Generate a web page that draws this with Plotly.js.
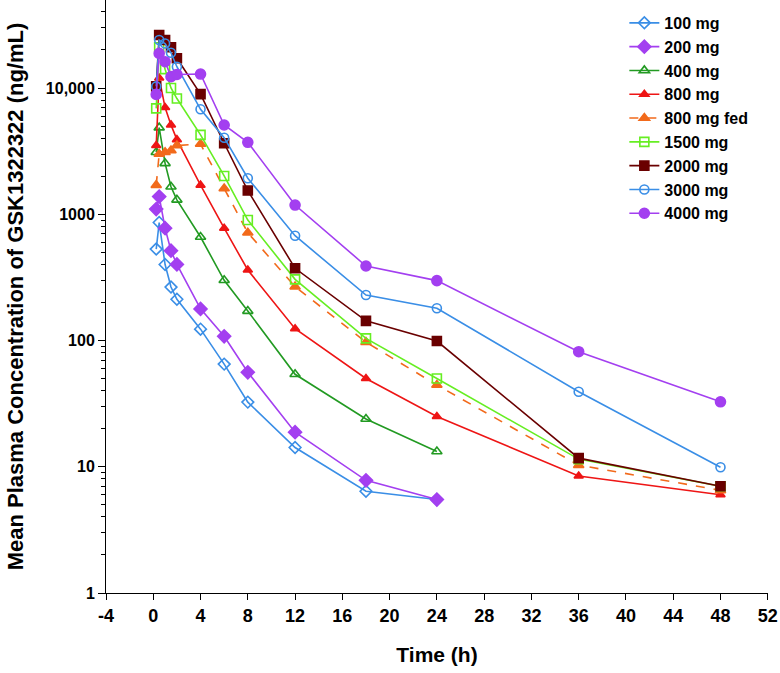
<!DOCTYPE html>
<html>
<head>
<meta charset="utf-8">
<script src="https://cdn.plot.ly/plotly-3.0.1.min.js"></script>
<style>html,body{margin:0;padding:0;background:#fff}#chart{width:780px;height:673px}</style>
</head>
<body>
<div id="chart"></div>
<script>
// Time points (h)
const timesTo24 = [0.25, 0.5, 1, 1.5, 2, 4, 6, 8, 12, 18, 24];
const timesTo48 = [0.25, 0.5, 1, 1.5, 2, 4, 6, 8, 12, 18, 24, 36, 48];

// Mean plasma concentrations (ng/mL)
const mg100   = [530, 860, 400, 265, 212, 123, 65, 32.5, 14.2, 6.4, 5.5];
const mg200   = [1100, 1380, 775, 515, 400, 178, 108, 56, 18.8, 7.8, 5.5];
const mg400   = [3100, 4850, 2530, 1650, 1300, 660, 300, 171, 54, 23.9, 13.2];
const mg800   = [3500, 12000, 7000, 5100, 3900, 1700, 775, 362, 124, 50, 25, 8.45, 6.0];
const mg800fed= [1700, 3000, 3100, 3200, 3500, 3600, 1600, 714, 267, 97, 44.4, 10.3, 6.5];
const mg1500  = [6900, 21000, 14100, 10000, 8250, 4250, 2010, 900, 305, 104, 50, 11.5, 7.0];
const mg2000  = [10300, 26300, 24000, 21000, 17200, 8950, 3650, 1540, 373, 143, 99, 11.7, 7.0];
const mg3000  = [10300, 24000, 22500, 19000, 14750, 6780, 4040, 1930, 676, 229, 180, 39.3, 9.9];
const mg4000  = [8900, 18800, 16150, 12300, 12800, 12900, 5090, 3715, 1183, 389, 298, 81.5, 32.7];

const seriesNames = ['100 mg','200 mg','400 mg','800 mg','800 mg fed','1500 mg','2000 mg','3000 mg','4000 mg'];
const xTickVals = [-4, 0, 4, 8, 12, 16, 20, 24, 28, 32, 36, 40, 44, 48, 52];
const xTickText = ['-4', '0', '4', '8', '12', '16', '20', '24', '28', '32', '36', '40', '44', '48', '52'];
const yTickVals = [1, 10, 100, 1000, 10000];
const yTickText = ['1', '10', '100', '1000', '10,000'];

// minor tick positions for the log axis (2..9 in each decade)
const yMinorVals = [];
for (let k = 0; k <= 4; k++) {
  for (let m = 2; m <= 9; m++) {
    const v = m * Math.pow(10, k);
    if (v <= 50000) yMinorVals.push(v);
  }
}

const series = [
  {x: timesTo24, y: mg100,    color: '#3a8ee6', symbol: 'diamond-open',     dash: 'solid', size: 9},
  {x: timesTo24, y: mg200,    color: '#a33ff0', symbol: 'diamond',          dash: 'solid', size: 10},
  {x: timesTo24, y: mg400,    color: '#229a22', symbol: 'triangle-up-open', dash: 'solid', size: 9},
  {x: timesTo48, y: mg800,    color: '#ee1515', symbol: 'triangle-up',      dash: 'solid', size: 8},
  {x: timesTo48, y: mg800fed, color: '#f26a1b', symbol: 'triangle-up',      dash: 'dash',  size: 9},
  {x: timesTo48, y: mg1500,   color: '#66ee22', symbol: 'square-open',      dash: 'solid', size: 9},
  {x: timesTo48, y: mg2000,   color: '#6a0000', symbol: 'square',           dash: 'solid', size: 9},
  {x: timesTo48, y: mg3000,   color: '#3a8ee6', symbol: 'circle-open',      dash: 'solid', size: 9},
  {x: timesTo48, y: mg4000,   color: '#a33ff0', symbol: 'circle',           dash: 'solid', size: 10}
];

const traces = series.map((s, i) => ({
  type: 'scatter',
  mode: 'lines+markers',
  name: seriesNames[i],
  x: s.x,
  y: s.y,
  line: {color: s.color, width: 1.6, dash: s.dash},
  marker: {color: s.color, symbol: s.symbol, size: s.size, line: {color: s.color, width: 1.6}}
}));

const sans = 'Liberation Sans, Arial, sans-serif';

const layout = {
  width: 780,
  height: 673,
  margin: {l: 106, r: 12, t: 0, b: 80},
  paper_bgcolor: '#ffffff',
  plot_bgcolor: '#ffffff',
  showlegend: true,
  legend: {
    x: 0.783, y: 0.99, xanchor: 'left', yanchor: 'top',
    font: {family: sans, size: 16, color: '#000', weight: 'bold'},
    traceorder: 'normal',
    bgcolor: 'rgba(0,0,0,0)'
  },
  xaxis: {
    range: [-4, 52.02],
    automargin: false,
    tickmode: 'array',
    tickvals: xTickVals,
    ticktext: xTickText,
    ticks: 'outside',
    ticklen: 6,
    tickcolor: '#000',
    showline: true,
    linecolor: '#000',
    linewidth: 1,
    showgrid: false,
    zeroline: false,
    tickfont: {family: sans, size: 18, color: '#000', weight: 'bold'},
    title: {text: 'Time (h)', font: {family: sans, size: 21, color: '#000', weight: 'bold'}, standoff: 22}
  },
  yaxis: {
    type: 'log',
    range: [0, 4.697],
    automargin: false,
    tickmode: 'array',
    tickvals: yTickVals,
    ticktext: yTickText,
    ticks: 'outside',
    ticklen: 7,
    tickcolor: '#000',
    showline: true,
    linecolor: '#000',
    linewidth: 1,
    showgrid: false,
    zeroline: false,
    minor: {tickmode: 'array', tickvals: yMinorVals, ticks: 'outside', ticklen: 4, tickcolor: '#000', showgrid: false},
    tickfont: {family: sans, size: 16, color: '#000', weight: 'bold'},
    title: {text: 'Mean Plasma Concentration of GSK1322322 (ng/mL)', font: {family: sans, size: 22, color: '#000', weight: 'bold'}, standoff: 16}
  }
};

Plotly.newPlot('chart', traces, layout, {displayModeBar: false, staticPlot: true});
</script>
</body>
</html>
